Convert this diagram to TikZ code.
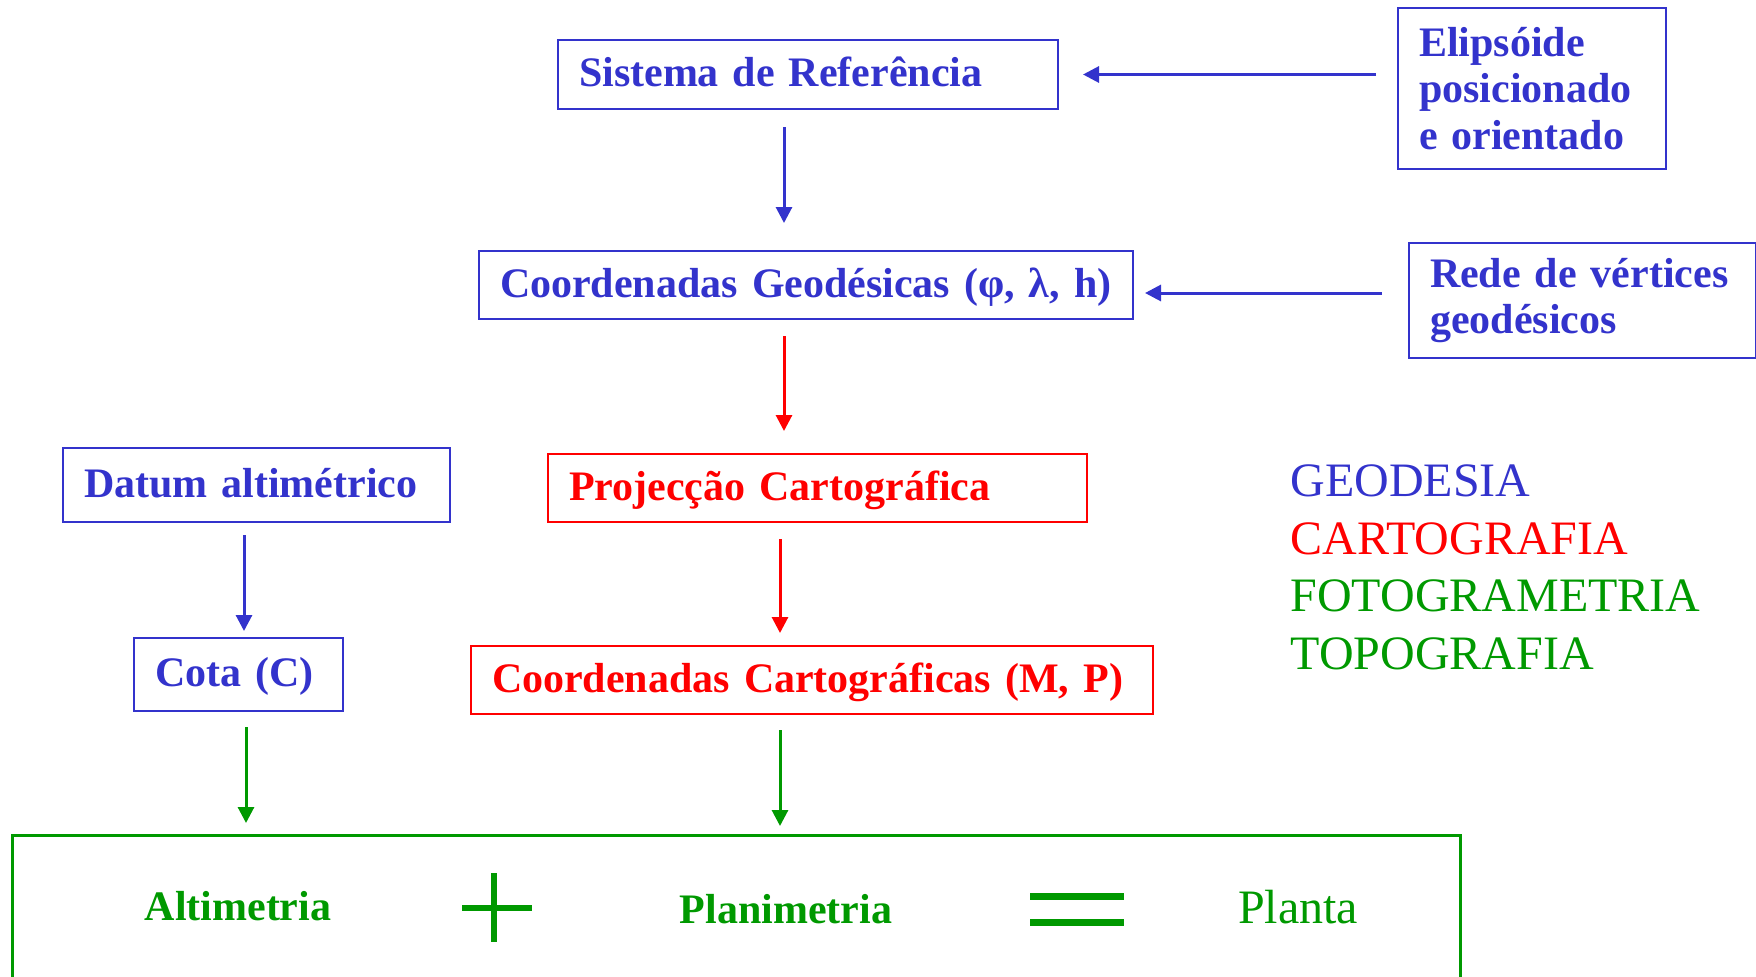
\documentclass[tikz,border=0pt]{standalone}
\usepackage{fontspec}
\setmainfont{Liberation Serif}
\usepackage{tikz}
\usetikzlibrary{arrows.meta}
\definecolor{azul}{RGB}{51,51,204}
\definecolor{verm}{RGB}{255,0,0}
\definecolor{verde}{RGB}{0,153,0}

\tikzset{
  caixa/.style={draw,line width=2pt,anchor=north west,inner xsep=21pt,inner ysep=0pt,
    align=left,font=\bfseries\fontsize{42}{46.5}\selectfont},
  umalinha/.style={text height=32pt,text depth=8pt},
  seta/.style={line width=3pt,-{Triangle[width=16pt,length=16pt]}},
  legenda/.style={anchor=base west,font=\fontsize{48}{58}\selectfont},
}

\begin{document}
\begin{tikzpicture}[x=1pt,y=-1pt]
    \useasboundingbox (0,0) rectangle (1756,977);
    \clip (0,0) rectangle (1756,977);

    % caixas azuis (geodesia)
    \node[caixa,umalinha,azul,minimum height=69pt,text width=458pt] (sist) at (557,39) {\mbox{Sistema de Referência}};
    \node[caixa,umalinha,azul,minimum height=68pt,text width=612pt] (geo) at (478,250) {\mbox{Coordenadas Geodésicas (φ, λ, h)}};
    \node[caixa,azul,minimum height=161pt,text width=226pt] (elip) at (1397,7) {Elipsóide\\posicionado\\\mbox{e orientado}};
    \node[caixa,azul,minimum height=115pt,text width=305pt] (rede) at (1408,242) {\mbox{Rede de vértices}\\geodésicos};
    \node[caixa,umalinha,azul,minimum height=74pt,text width=345pt] (datum) at (62,447) {\mbox{Datum altimétrico}};
    \node[caixa,umalinha,azul,minimum height=73pt,text width=167pt] (cota) at (133,637) {\mbox{Cota (C)}};

    % caixas vermelhas (cartografia)
    \node[caixa,umalinha,verm,minimum height=68pt,text width=497pt] (proj) at (547,453) {\mbox{Projecção Cartográfica}};
    \node[caixa,umalinha,verm,minimum height=68pt,text width=640pt] (cart) at (470,645) {\mbox{Coordenadas Cartográficas (M, P)}};

    % caixa verde de baixo
    \node[draw,verde,line width=2.5pt,anchor=north west,minimum width=1448pt,minimum height=200pt,inner sep=0pt] (res) at (11,834) {};

    % colunas das setas
    \coordinate (c1) at (784,0);
    \coordinate (c2) at (780,0);
    \coordinate (c3) at (244,0);
    \coordinate (c4) at (246,0);
    \coordinate (h2) at (0,293);

    % setas
    \draw[seta,azul,shorten <=17pt,shorten >=27pt] (sist.south -| c1) -- (geo.north -| c1);
    \draw[seta,azul,shorten <=21pt,shorten >=24pt] (elip.west |- sist.east) -- (sist.east);
    \draw[seta,azul,shorten <=26pt,shorten >=11pt] (rede.west |- h2) -- (geo.east |- h2);
    \draw[seta,verm,shorten <=16pt,shorten >=22pt] (geo.south -| c1) -- (proj.north -| c1);
    \draw[seta,verm,shorten <=16pt,shorten >=12pt] (proj.south -| c2) -- (cart.north -| c2);
    \draw[seta,azul,shorten <=12pt,shorten >=6pt] (datum.south -| c3) -- (cota.north -| c3);
    \draw[seta,verde,shorten <=15pt,shorten >=11pt] (cota.south -| c4) -- (res.north -| c4);
    \draw[seta,verde,shorten <=15pt,shorten >=8pt] (cart.south -| c2) -- (res.north -| c2);

    % soma
    \node[verde,anchor=base,font=\bfseries\fontsize{42}{46}\selectfont] (alt) at (238,920) {Altimetria};
    \node[verde,anchor=base,font=\bfseries\fontsize{42}{46}\selectfont] (plan) at (786,923) {Planimetria};
    \node[verde,anchor=base,font=\fontsize{48}{52}\selectfont] (planta) at (1298,923) {Planta};
    \draw[verde,line width=6pt] (494,873) -- (494,942) (462,908) -- (532,908);
    \draw[verde,line width=7pt] (1030,896) -- (1124,896) (1030,922.5) -- (1124,922.5);

    % legenda
    \node[legenda,azul] (geod) at (1287,496) {GEODESIA};
    \node[legenda,verm] (cartog) at (1287,554) {CARTOGRAFIA};
    \node[legenda,verde] (foto) at (1287,611) {FOTOGRAMETRIA};
    \node[legenda,verde] (topo) at (1287,669) {TOPOGRAFIA};

\end{tikzpicture}
\end{document}
